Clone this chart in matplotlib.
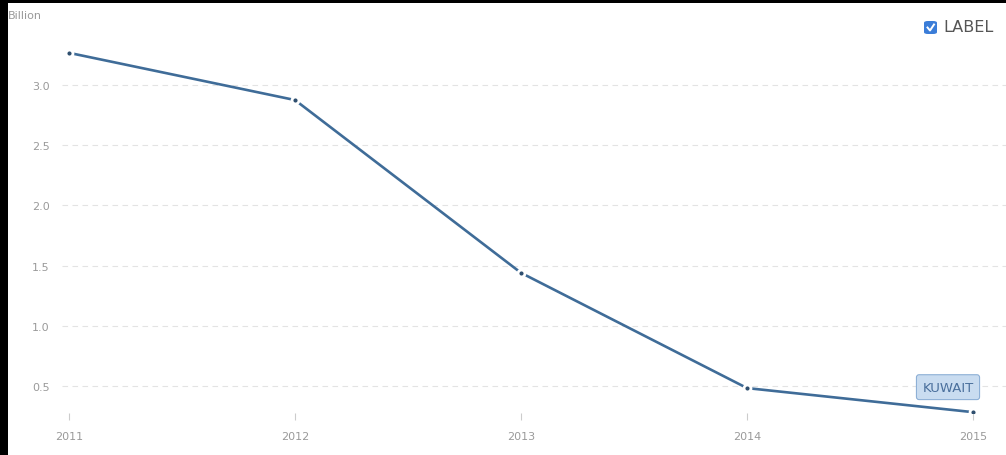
import matplotlib.pyplot as plt
from matplotlib.patches import FancyBboxPatch, Rectangle

years = [2011, 2012, 2013, 2014, 2015]
values = [3.267, 2.875, 1.44, 0.483, 0.283]
y_ticks = [0.5, 1.0, 1.5, 2.0, 2.5, 3.0]
y_labels = ["0.5", "1.0", "1.5", "2.0", "2.5", "3.0"]
country = "KUWAIT"

W, H = 1006, 456
fig = plt.figure(figsize=(W / 100, H / 100), dpi=100)
ax = fig.add_axes([62 / W, 1 - 414 / H, 1 - 62 / W, (414 - 30) / H])

line_color = "#3f6c98"
ax.plot(years, values, color=line_color, lw=1.9, zorder=3,
        marker="o", markersize=5, markerfacecolor="#2f4f6f",
        markeredgecolor="white", markeredgewidth=2.0)

ax.set_xlim(2010.969, 2015.146)
ax.set_ylim(0.276, 3.465)
ax.set_xticks(years)
ax.set_xticklabels([str(y) for y in years])
ax.set_yticks(y_ticks)
ax.set_yticklabels(y_labels)
ax.grid(axis="y", color="#e3e3e3", linestyle=(0, (5, 4)), lw=0.8)
ax.tick_params(axis="y", length=0, pad=9, labelsize=8, labelcolor="#9a9a9a")
ax.tick_params(axis="x", length=5, width=0.8, color="#cccccc", pad=8,
               labelsize=8, labelcolor="#9a9a9a")
for s in ax.spines.values():
    s.set_visible(False)

ax.annotate(country, xy=(years[-1], values[-1]), xytext=(-18, 18),
            textcoords="offset points", ha="center", va="center",
            fontsize=9.5, color="#4a6f9c",
            bbox=dict(boxstyle="round,pad=0.45,rounding_size=0.2",
                      fc="#c9dcf0", ec="#8eb0d6", lw=0.8))

fig.text(8 / W, 1 - 16 / H, "Billion", fontsize=8, color="#999999",
         ha="left", va="center")

# checkbox legend
fig.patches.append(FancyBboxPatch((924 / W, 1 - 35 / H), 13 / W, 13 / H,
                                  boxstyle="round,pad=0,rounding_size=0.004",
                                  transform=fig.transFigure, fc="#3b7dd8",
                                  ec="none"))
fig.lines.append(plt.Line2D([927.5 / W, 930 / W, 934 / W],
                            [1 - 28.5 / H, 1 - 31.5 / H, 1 - 25.5 / H],
                            transform=fig.transFigure, color="white", lw=1.4))
fig.text(943 / W, 1 - 28 / H, "LABEL", fontsize=11.5, color="#555555",
         ha="left", va="center")

# black frame on the left and top edges
fig.patches.append(Rectangle((0, 0), 8 / W, 1, transform=fig.transFigure,
                             fc="black", ec="none"))
fig.patches.append(Rectangle((0, 1 - 4 / H), 1, 4 / H, transform=fig.transFigure,
                             fc="black", ec="none"))

fig.savefig("out.png", dpi=100)
